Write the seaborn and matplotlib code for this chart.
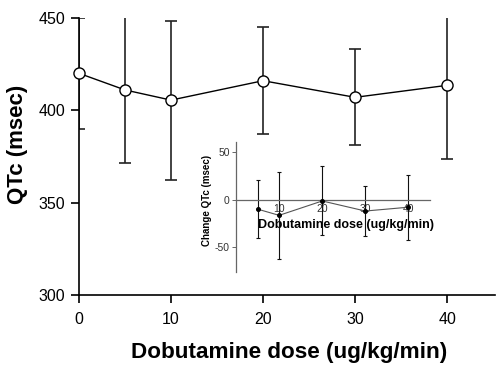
import matplotlib
matplotlib.use("Agg")
import matplotlib.pyplot as plt
import seaborn as sns
import numpy as np

# main chart data
dose = [0, 5, 10, 20, 30, 40]
qtc = [420, 411, 405.5, 416, 407, 413.5]
qtc_err = [30, 39.5, 43, 29, 26, 40]

# inset data (change in QTc)
dose_inset = [5, 10, 20, 30, 40]
change_qtc = [-10, -16.5, -1.5, -12, -8]
change_err = [30, 45.5, 36, 26, 34]

main_yticks = [300, 350, 400, 450]
main_xticks = [0, 10, 20, 30, 40]
inset_yticks = [-50, 0, 50]
inset_xticks = [10, 20, 30, 40]

sns.set_theme(style="ticks")
plt.rcParams['font.family'] = ['Liberation Sans', 'DejaVu Sans']
plt.rcParams['axes.unicode_minus'] = False
plt.rcParams['text.color'] = 'black'
plt.rcParams['axes.labelcolor'] = 'black'

fig = plt.figure(figsize=(5, 3.69), dpi=100)
ax = fig.add_axes([0.158, 0.2005, 0.832, 0.751])

ax.errorbar(dose, qtc, yerr=qtc_err, fmt='none', ecolor='#222222',
            elinewidth=1.2, capsize=4.5, capthick=1.2, zorder=2)
sns.lineplot(x=dose, y=qtc, ax=ax, color='black', linewidth=1.0,
             marker='o', markersize=8, markerfacecolor='white',
             markeredgecolor='black', markeredgewidth=1.0, zorder=3,
             clip_on=False)

ax.set_xlim(0, 45.2)
ax.set_ylim(300, 450)
ax.set_xticks(main_xticks)
ax.set_yticks(main_yticks)
for s in ['top', 'right']:
    ax.spines[s].set_visible(False)
for s in ['left', 'bottom']:
    ax.spines[s].set_linewidth(1.2)
    ax.spines[s].set_color('black')
ax.tick_params(axis='both', length=6, width=1.2, color='black',
               labelsize=11.5, labelcolor='black', pad=4)
ax.tick_params(axis='x', pad=6)
ax.set_xlabel('Dobutamine dose (ug/kg/min)', fontsize=16.2, fontweight='bold',
              va='center', color='black')
ax.xaxis.set_label_coords(0.505, -0.209)
ax.set_ylabel('QTc (msec)', fontsize=16, fontweight='bold', va='center',
              color='black')
ax.yaxis.set_label_coords(-0.149, 0.545)

# inset
ax2 = fig.add_axes([0.472, 0.263, 0.388, 0.352])
ax2.patch.set_alpha(0)
ax2.errorbar(dose_inset, change_qtc, yerr=change_err, fmt='none',
             ecolor='#111111', elinewidth=0.8, capsize=1.5, capthick=0.8,
             zorder=2)
sns.lineplot(x=dose_inset, y=change_qtc, ax=ax2, color='#555555',
             linewidth=0.8, marker='o', markersize=2.8,
             markerfacecolor='black', markeredgecolor='black', zorder=3)
ax2.set_xlim(0, 45)
ax2.set_ylim(-75.6, 60)
ax2.set_xticks(inset_xticks)
ax2.set_yticks(inset_yticks)
ax2.spines['top'].set_visible(False)
ax2.spines['right'].set_visible(False)
ax2.spines['bottom'].set_position(('data', 0))
ax2.spines['bottom'].set_color('#666666')
ax2.spines['left'].set_color('#666666')
ax2.spines['bottom'].set_linewidth(0.9)
ax2.spines['left'].set_linewidth(0.9)
ax2.tick_params(axis='y', length=3, width=0.7, color='#666666',
                labelsize=7.5, labelcolor='#333333', pad=1.5)
ax2.tick_params(axis='x', length=0, labelsize=7.5, labelcolor='#333333', pad=3)
ax2.set_xlabel('Dobutamine dose (ug/kg/min)', fontsize=9,
               fontweight='bold', va='center', color='black')
ax2.xaxis.set_label_coords(0.567, 0.36)
ax2.set_ylabel('Change QTc (msec)', fontsize=7, fontweight='bold',
               va='center', color='black')
ax2.yaxis.set_label_coords(-0.15, 0.55)

fig.savefig('out.png', dpi=100)
